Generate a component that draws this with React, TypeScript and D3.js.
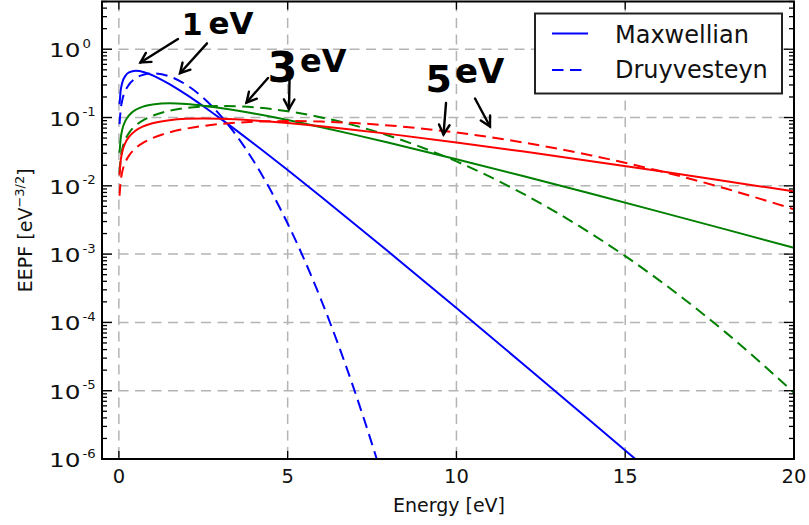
import React from "react";
import * as d3 from "d3";

// Energy grid [eV]
const ENERGY = [0.02, 0.05, 0.1, 0.2, 0.3, 0.5, 0.75, 1, 1.5, 2, 2.5, 3, 4, 5, 6, 7, 8, 10, 12, 14, 16, 18, 20];

// EEPF values
const MAXW_1 = [0.15642, 0.24001, 0.32287, 0.41315, 0.45786, 0.48394, 0.4616, 0.41511, 0.30836, 0.21597, 0.14645, 0.097304, 0.041335, 0.017001, 0.0068513, 0.0027223, 0.0010707, 1.62e-4, 2.4017e-5, 3.5108e-6, 5.0795e-7, 7.2911e-8, 1.0401e-8];
const MAXW_3 = [0.030507, 0.047756, 0.066421, 0.090853, 0.10762, 0.12999, 0.14647, 0.1556, 0.16132, 0.15768, 0.14922, 0.13837, 0.11449, 0.091716, 0.071991, 0.055715, 0.042678, 0.024498, 0.013778, 0.0076406, 0.0041937, 0.0022838, 0.0012359];
const MAXW_5 = [0.014217, 0.022344, 0.031285, 0.043367, 0.052061, 0.064578, 0.075233, 0.082634, 0.091573, 0.095682, 0.09679, 0.095943, 0.090702, 0.083027, 0.074463, 0.065852, 0.057636, 0.043196, 0.031718, 0.022965, 0.016456, 0.0117, 0.0082673];
const DRUY_1 = [0.08005, 0.1265, 0.17858, 0.25071, 0.30331, 0.37656, 0.42727, 0.44335, 0.40001, 0.30114, 0.19425, 0.10864, 0.022666, 0.0028078, 2.0901e-4, 9.4094e-6, 2.5711e-7, 4.333e-11, null, null, null, null, null];
const DRUY_3 = [0.015408, 0.02436, 0.034444, 0.048671, 0.059528, 0.076518, 0.092922, 0.10603, 0.12553, 0.13822, 0.14537, 0.14779, 0.1411, 0.12354, 0.10038, 0.076172, 0.054182, 0.022787, 0.0075557, 0.0019876, 4.1649e-4, 6.9673e-5, 9.3215e-6];
const DRUY_5 = [0.0071607, 0.011322, 0.01601, 0.022635, 0.027709, 0.035717, 0.043611, 0.050141, 0.060665, 0.068861, 0.075314, 0.080313, 0.086604, 0.08867, 0.087228, 0.082974, 0.076597, 0.060229, 0.04291, 0.027877, 0.016574, 0.0090438, 0.0045331];

const X_TICKS = [0, 5, 10, 15, 20];
const Y_EXPONENTS = [0, -1, -2, -3, -4, -5, -6];
const LEGEND_LABELS = ["Maxwellian", "Druyvesteyn"];

// annotation arrows in data coordinates: [x0, y0, x1(tip), y1(tip)]
const ARROWS = [
  [1.751, 1.41, 0.64, 0.64],
  [2.611, 1.22, 1.811, 0.445],
  [4.418, 0.379, 3.781, 0.166],
  [5.055, 0.355, 5.04, 0.133],
  [9.691, 0.163, 9.617, 0.0565],
  [10.55, 0.19, 10.994, 0.0739],
];
// annotation labels: text, x, y, font size
const ANNOTATIONS: [string, number, number, number][] = [
  ["1", 1.861, 1.616, 30],
  ["eV", 2.655, 1.671, 31],
  ["3", 4.403, 0.331, 43],
  ["eV", 5.366, 0.464, 32],
  ["5", 9.083, 0.2366, 38],
  ["eV", 9.957, 0.3203, 34],
];

const W = 809;
const H = 525;
const L = 102, R = 794, T = 1.5, B = 459;

export default function App() {
  const x = d3.scaleLinear().domain([-0.5, 20]).range([L, R]);
  const y = d3.scaleLog().domain([1e-6, 5]).range([B, T]);

  const series = [
    { v: MAXW_1, c: "#0000ff", dash: null },
    { v: DRUY_1, c: "#0000ff", dash: "11.5,6.5" },
    { v: MAXW_3, c: "#008000", dash: null },
    { v: DRUY_3, c: "#008000", dash: "11.5,6.5" },
    { v: MAXW_5, c: "#ff0000", dash: null },
    { v: DRUY_5, c: "#ff0000", dash: "11.5,6.5" },
  ];

  const line = d3
    .line<[number, number | null]>()
    .defined((d) => d[1] != null)
    .x((d) => x(d[0]))
    .y((d) => y(d[1] as number))
    .curve(d3.curveMonotoneX);

  const minor: number[] = [];
  for (const e of Y_EXPONENTS) {
    for (let k = 2; k <= 9; k++) {
      const v = k * Math.pow(10, e);
      if (v <= 5) minor.push(v);
    }
  }

  const gridColor = "#b4b4b4";
  const font = "'DejaVu Sans', Verdana, sans-serif";

  const arrowHead = (x0: number, y0: number, x1: number, y1: number) => {
    const ang = Math.atan2(y1 - y0, x1 - x0);
    const len = 11;
    const spread = 0.5;
    const a1 = ang + Math.PI - spread;
    const a2 = ang + Math.PI + spread;
    return `M${x1 + len * Math.cos(a1)},${y1 + len * Math.sin(a1)}L${x1},${y1}L${x1 + len * Math.cos(a2)},${y1 + len * Math.sin(a2)}`;
  };

  return (
    <svg width={W} height={H} style={{ position: "absolute", left: 0, top: 0, background: "#fff" }}>
      <defs>
        <clipPath id="plotclip">
          <rect x={L} y={T} width={R - L} height={B - T} />
        </clipPath>
      </defs>

      {/* grid */}
      <g stroke={gridColor} strokeWidth={1.5} strokeDasharray="10,6.5">
        {X_TICKS.map((t) => (
          <line key={"gx" + t} x1={x(t)} x2={x(t)} y1={T} y2={B} />
        ))}
        {Y_EXPONENTS.map((e) => (
          <line key={"gy" + e} x1={L} x2={R} y1={y(Math.pow(10, e))} y2={y(Math.pow(10, e))} />
        ))}
      </g>

      {/* data */}
      <g clipPath="url(#plotclip)" fill="none" strokeWidth={2}>
        {series.map((s, i) => (
          <path
            key={i}
            d={line(ENERGY.map((e, j) => [e, s.v[j]] as [number, number | null])) || ""}
            stroke={s.c}
            strokeDasharray={s.dash || undefined}
          />
        ))}
      </g>

      {/* ticks */}
      <g stroke="#000" strokeWidth={1.3}>
        {X_TICKS.map((t) => (
          <g key={"xt" + t}>
            <line x1={x(t)} x2={x(t)} y1={B} y2={B - 8} />
            <line x1={x(t)} x2={x(t)} y1={T} y2={T + 8} />
          </g>
        ))}
        {Y_EXPONENTS.map((e) => (
          <g key={"yt" + e}>
            <line x1={L} x2={L + 10} y1={y(Math.pow(10, e))} y2={y(Math.pow(10, e))} />
            <line x1={R} x2={R - 10} y1={y(Math.pow(10, e))} y2={y(Math.pow(10, e))} />
          </g>
        ))}
        {minor.map((v, i) => (
          <g key={"mt" + i}>
            <line x1={L} x2={L + 5} y1={y(v)} y2={y(v)} />
            <line x1={R} x2={R - 5} y1={y(v)} y2={y(v)} />
          </g>
        ))}
      </g>

      {/* frame */}
      <rect x={L} y={T} width={R - L} height={B - T} fill="none" stroke="#000" strokeWidth={2} />

      {/* x tick labels */}
      <g fontFamily={font} fontSize={19.5} fill="#111" textAnchor="middle">
        {X_TICKS.map((t) => (
          <text key={"xl" + t} x={x(t)} y={483}>
            {t}
          </text>
        ))}
      </g>

      {/* y tick labels */}
      <g fontFamily={font} fill="#111">
        {Y_EXPONENTS.map((e) => {
          const yy = y(Math.pow(10, e));
          return (
            <g key={"yl" + e}>
              <text transform={`translate(49, ${yy + 8}) scale(1.24, 1)`} fontSize={20}>
                10
              </text>
              <text transform={`translate(82.5, ${yy - 1.5}) scale(1.15, 1)`} fontSize={11.5}>
                {e === 0 ? "0" : "-" + Math.abs(e)}
              </text>
            </g>
          );
        })}
      </g>

      {/* axis labels */}
      <text x={(L + R) / 2 + 1} y={512} fontFamily={font} fontSize={19} fill="#111" textAnchor="middle">
        Energy [eV]
      </text>
      <text
        transform={`translate(31.5, ${(T + B) / 2}) rotate(-90)`}
        fontFamily={font}
        fontSize={19}
        fill="#111"
        textAnchor="middle"
      >
        EEPF [eV
        <tspan fontSize={13} dy={-8}>
          −3/2
        </tspan>
        <tspan dy={8}>]</tspan>
      </text>

      {/* legend */}
      <g>
        <rect x={535} y={13.5} width={247} height={80} fill="#fff" stroke="#222" strokeWidth={2} />
        <line x1={552} x2={588} y1={33.5} y2={33.5} stroke="#0000ff" strokeWidth={2} />
        <line x1={552} x2={588} y1={70} y2={70} stroke="#0000ff" strokeWidth={2} strokeDasharray="11.5,6.5" />
        <text x={615} y={42.7} fontFamily={font} fontSize={24} fill="#111">
          {LEGEND_LABELS[0]}
        </text>
        <text x={615} y={77.7} fontFamily={font} fontSize={24} fill="#111">
          {LEGEND_LABELS[1]}
        </text>
      </g>

      {/* annotations */}
      <g stroke="#000" strokeWidth={2.4} fill="none" strokeLinecap="round">
        {ARROWS.map((a, i) => {
          const x0 = x(a[0]), y0 = y(a[1]), x1 = x(a[2]), y1 = y(a[3]);
          return (
            <g key={"ar" + i}>
              <line x1={x0} y1={y0} x2={x1} y2={y1} />
              <path d={arrowHead(x0, y0, x1, y1)} />
            </g>
          );
        })}
      </g>
      <g fontFamily="'DejaVu Sans', sans-serif" fontWeight="bold" fill="#000">
        {ANNOTATIONS.map((a, i) => (
          <text key={"an" + i} x={x(a[1])} y={y(a[2])} fontSize={a[3]}>
            {a[0]}
          </text>
        ))}
      </g>
    </svg>
  );
}
